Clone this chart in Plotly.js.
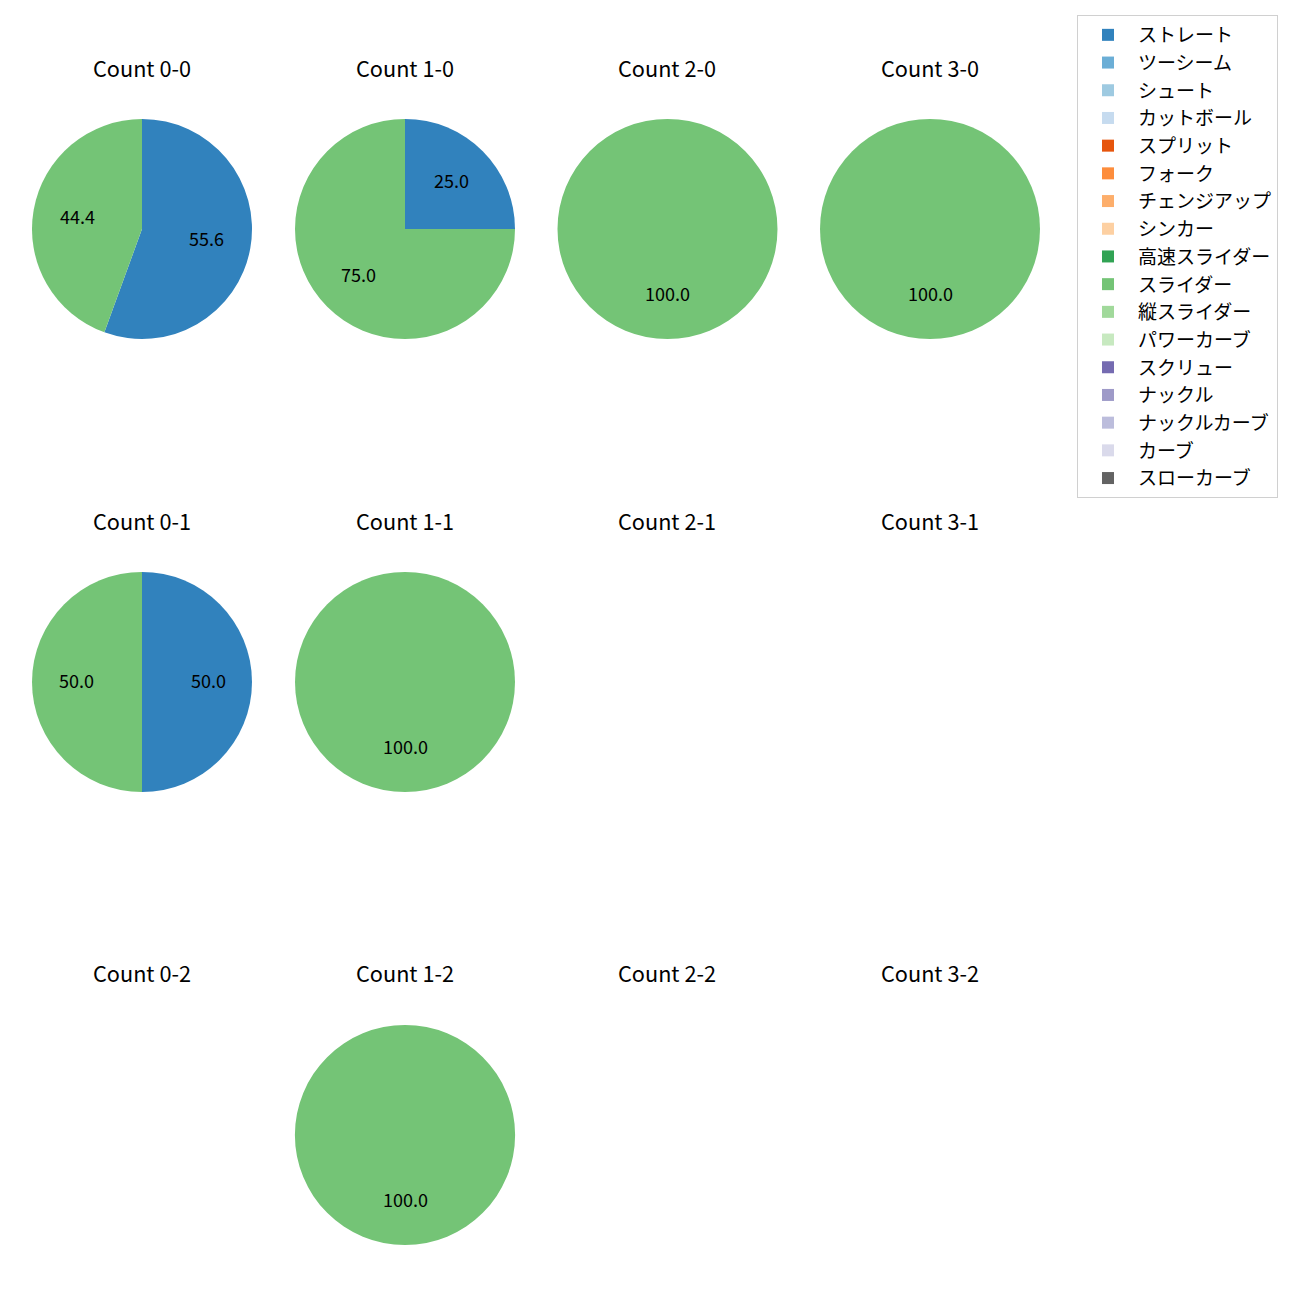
<!DOCTYPE html>
<html>
<head>
<meta charset="utf-8">
<script src="https://cdn.plot.ly/plotly-3.0.1.min.js"></script>
<style>body{margin:0;padding:0;background:#fff;}</style>
</head>
<body>
<div id="chart" style="width:1300px;height:1300px;"></div>
<script>
// Pitch types (legend order)
const pitchTypes = ["ストレート","ツーシーム","シュート","カットボール","スプリット","フォーク","チェンジアップ","シンカー","高速スライダー","スライダー","縦スライダー","パワーカーブ","スクリュー","ナックル","ナックルカーブ","カーブ","スローカーブ"];
const pitchColors = ["#3182bd","#6baed6","#9ecae1","#c6dbef","#e6550d","#fd8d3c","#fdae6b","#fdd0a2","#31a354","#74c476","#a1d99b","#c7e9c0","#756bb1","#9e9ac8","#bcbddc","#dadaeb","#636363"];

// Counts (balls-strikes) in grid order: row = strikes, column = balls
const countTitles = [
  "Count 0-0","Count 1-0","Count 2-0","Count 3-0",
  "Count 0-1","Count 1-1","Count 2-1","Count 3-1",
  "Count 0-2","Count 1-2","Count 2-2","Count 3-2"
];
// Pitch counts per situation (ストレート, スライダー; others zero)
const straightCounts = [5,1,0,0, 1,0,0,0, 0,0,0,0];
const sliderCounts   = [4,3,1,1, 1,1,0,0, 0,1,0,0];

// Layout geometry (pixels)
const W = 1300, H = 1300;
const colCenters = [142, 405, 667.5, 930];
const rowCenters = [229, 682, 1135];
const titleRows = [68, 520, 972];
const R = 110;
const FONT = '"Noto Sans CJK JP", "Noto Sans", sans-serif';

const traces = [];
const annotations = [];

countTitles.forEach((title, k) => {
  const col = k % 4, row = Math.floor(k / 4);
  const cx = colCenters[col], cy = rowCenters[row];
  const vals = pitchTypes.map(p => p === "ストレート" ? straightCounts[k] : (p === "スライダー" ? sliderCounts[k] : 0));
  traces.push({
    type: 'pie',
    labels: pitchTypes,
    values: vals,
    marker: {colors: pitchColors, line: {width: 0}},
    sort: false,
    direction: 'clockwise',
    rotation: 0,
    textinfo: 'none',
    hoverinfo: 'label+percent',
    showlegend: true,
    domain: {x: [(cx - R) / W, (cx + R) / W], y: [1 - (cy + R) / H, 1 - (cy - R) / H]}
  });
  annotations.push({
    text: title, x: cx / W, y: 1 - titleRows[row] / H, xref: 'paper', yref: 'paper',
    xanchor: 'center', yanchor: 'middle', showarrow: false,
    font: {family: FONT, size: 21.7, color: '#000'}
  });
  // percentage labels at 0.6 radius of each wedge's middle angle
  const total = vals.reduce((a, b) => a + b, 0);
  if (total > 0) {
    let cum = 0;
    vals.forEach(v => {
      if (v > 0) {
        const ang = (90 - 360 * (cum + v / 2) / total) * Math.PI / 180;
        const px = cx + 0.6 * R * Math.cos(ang);
        const py = cy - 0.6 * R * Math.sin(ang);
        annotations.push({
          text: (100 * v / total).toFixed(1), x: px / W, y: 1 - py / H, xref: 'paper', yref: 'paper',
          xanchor: 'center', yanchor: 'middle', showarrow: false, yshift: 2,
          font: {family: FONT, size: 18, color: '#000'}
        });
      }
      cum += v;
    });
  }
});

const layout = {
  width: W, height: H,
  margin: {l: 0, r: 0, t: 0, b: 0},
  paper_bgcolor: '#fff',
  font: {family: FONT, size: 18, color: '#000'},
  showlegend: true,
  legend: {
    x: 1077 / W, y: 1 - 15 / H, xanchor: 'left', yanchor: 'top',
    bordercolor: '#d0d0d0', borderwidth: 1, bgcolor: '#fff',
    font: {family: FONT, size: 19, color: '#000'},
    itemwidth: 50,
    traceorder: 'normal'
  },
  annotations: annotations
};

Plotly.newPlot('chart', traces, layout, {displayModeBar: false, staticPlot: true});
</script>
</body>
</html>
